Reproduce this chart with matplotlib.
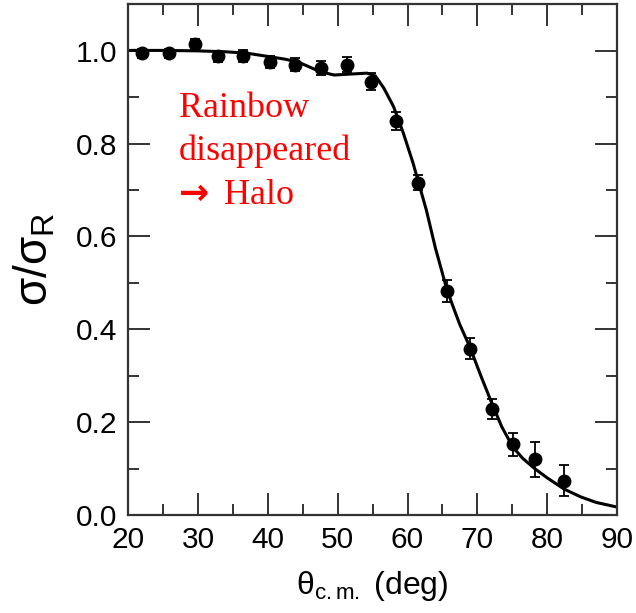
import matplotlib
matplotlib.use("Agg")
import matplotlib.pyplot as plt
from matplotlib.ticker import MultipleLocator

plt.rcParams['font.family'] = ['Liberation Sans', 'DejaVu Sans']
plt.rcParams['mathtext.fontset'] = 'custom'
plt.rcParams['mathtext.rm'] = 'Liberation Sans'
plt.rcParams['mathtext.it'] = 'Liberation Sans'

# measured points
theta = [22.0, 25.8, 29.5, 32.9, 36.5, 40.3, 43.9, 47.6, 51.3, 54.7,
         58.4, 61.5, 65.6, 68.9, 72.1, 75.1, 78.2, 82.4]
ratio = [0.995, 0.995, 1.014, 0.988, 0.989, 0.977, 0.970, 0.963, 0.970, 0.934,
         0.849, 0.716, 0.483, 0.358, 0.228, 0.152, 0.120, 0.074]
ratio_err = [0.010, 0.010, 0.012, 0.012, 0.012, 0.013, 0.014, 0.015, 0.016, 0.018,
             0.020, 0.016, 0.024, 0.023, 0.022, 0.025, 0.038, 0.034]

# calculation (solid line)
calc_theta = [20, 25, 30, 34, 37, 40, 42.5, 44.5, 46, 47.5, 49.5, 51.8, 54.2,
              55.4, 56.6, 58.0, 59.4, 60.8, 62.7, 64.0, 65.6, 66.5, 67.5, 68.9,
              70.5, 72.1, 73.5, 75.1, 76.5, 78.2, 80.0, 82.4, 84.8, 87.0, 90.0]
calc_ratio = [1.001, 1.001, 1.000, 0.998, 0.995, 0.988, 0.982, 0.975, 0.965, 0.955,
              0.948, 0.950, 0.952, 0.946, 0.920, 0.880, 0.823, 0.758, 0.657, 0.575,
              0.488, 0.450, 0.410, 0.363, 0.300, 0.240, 0.190, 0.146, 0.122, 0.100,
              0.080, 0.056, 0.039, 0.027, 0.017]

fig = plt.figure(figsize=(6.36, 6.13), dpi=100)
ax = fig.add_axes([0.2017, 0.160, 0.7683, 0.8327])

ax.plot(calc_theta, calc_ratio, color='black', lw=2.2, zorder=2)
ax.errorbar(theta, ratio, yerr=ratio_err, fmt='o', color='black', ms=9,
            elinewidth=1.3, capsize=3.3, capthick=1.3, zorder=3)

ax.set_xlim(20, 90)
ax.set_ylim(0, 1.1)
ax.xaxis.set_major_locator(MultipleLocator(10))
ax.xaxis.set_minor_locator(MultipleLocator(5))
ax.yaxis.set_major_locator(MultipleLocator(0.2))
ax.yaxis.set_minor_locator(MultipleLocator(0.1))
ax.yaxis.set_major_formatter(matplotlib.ticker.FormatStrFormatter('%.1f'))
ax.tick_params(which='both', direction='in', top=True, right=True,
               width=1.4, color='#333333', labelsize=21.5, pad=8)
ax.tick_params(which='major', length=16)
ax.tick_params(which='minor', length=8)
for s in ax.spines.values():
    s.set_linewidth(1.6)
    s.set_color('#333333')

ax.set_xlabel(r'θ$_{\mathrm{c.m.}}$ (deg)', fontsize=23)
ax.set_ylabel(r'σ/σ$_{\mathrm{R}}$', fontsize=33)
ax.xaxis.set_label_coords(0.5, -0.105)
ax.yaxis.set_label_coords(-0.145, 0.5)

red = '#ff0000'
serif = ['Liberation Serif', 'DejaVu Serif']
ax.text(27.3, 0.858, 'Rainbow', color=red, fontsize=26, family=serif, va='baseline')
ax.text(27.3, 0.765, 'disappeared', color=red, fontsize=26, family=serif, va='baseline')
ax.text(27.3, 0.670, '→', color=red, fontsize=26, family='DejaVu Sans',
        fontweight='bold', va='baseline')
ax.text(33.7, 0.670, 'Halo', color=red, fontsize=26, family=serif, va='baseline')

fig.savefig('out.png', dpi=100)
